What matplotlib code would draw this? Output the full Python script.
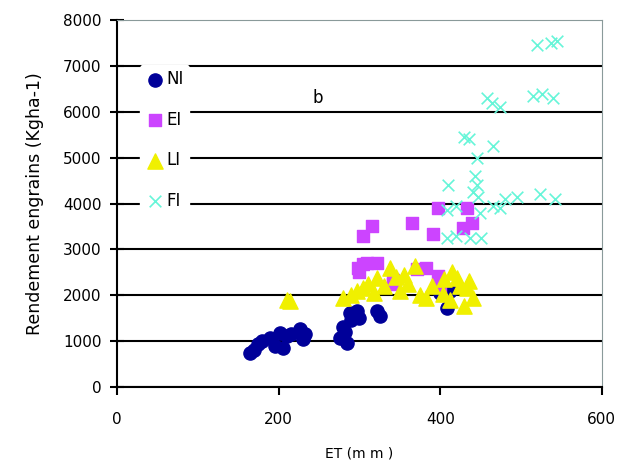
import matplotlib
matplotlib.use('Agg')
import matplotlib.pyplot as plt

# Data (ET in mm, yield in kg/ha)
ni_et = [165, 170, 175, 180, 189, 195, 202, 205, 210, 215, 226, 230, 233,
         276, 280, 282, 285, 288, 290, 297, 300, 322, 325, 400, 408, 412]
ni_yield = [745, 800, 940, 1000, 1070, 900, 1180, 850, 1100, 1150, 1265, 1050, 1150,
            1070, 1300, 1200, 950, 1600, 1450, 1660, 1500, 1660, 1550, 2050, 1730, 2100]

ei_et = [298, 300, 304, 309, 315, 322, 342, 342, 365, 371, 383, 391, 397, 397,
         428, 433, 439, 304, 400]
ei_yield = [2600, 2500, 3300, 2710, 3500, 2710, 2250, 2320, 3585, 2580, 2600, 3340,
            3910, 2425, 3475, 3910, 3585, 2690, 2200]

li_et = [210, 214, 280, 290, 297, 304, 310, 322, 330, 338, 345, 350, 360, 369, 375,
         383, 390, 403, 405, 415, 421, 425, 430, 433, 440, 318, 355, 412, 436]
li_yield = [1900, 1880, 1945, 2000, 2100, 2165, 2250, 2385, 2200, 2600, 2400, 2100,
            2250, 2640, 2000, 1945, 2200, 2030, 2350, 2500, 2385, 2200, 1770, 2165, 1945,
            2050, 2450, 1900, 2300]

fi_et = [408, 420, 437, 450, 408, 420, 440, 449, 447, 445, 443, 410, 474, 480, 495,
         523, 542, 465, 430, 435, 445, 465, 458, 464, 474, 515, 526, 540, 520, 537, 545]
fi_yield = [3250, 3300, 3250, 3250, 3850, 3950, 4250, 3800, 4150, 4400, 4600, 4400,
            3900, 4100, 4150, 4200, 4100, 3950, 5450, 5400, 5000, 5250, 6300, 6200,
            6100, 6350, 6400, 6300, 7450, 7500, 7550]

fig = plt.figure(figsize=(6.24, 4.70), dpi=100)
ax = fig.add_axes([0.1875, 0.177, 0.777, 0.78])

ax.scatter(ni_et, ni_yield, marker='o', s=90, color='#000099', label='NI', zorder=3)
ax.scatter(ei_et, ei_yield, marker='s', s=85, color='#cc44ff', label='EI', zorder=3)
ax.scatter(li_et, li_yield, marker='^', s=120, color='#f0f000', label='LI', zorder=3)
ax.scatter(fi_et, fi_yield, marker='x', s=70, color='#66f5d8', linewidths=1.2,
           label='FI', zorder=4)

ax.text(249, 6300, 'b', fontsize=12, ha='center', va='center')

ax.set_xlim(0, 600)
ax.set_ylim(0, 8000)
ax.set_xticks([0, 200, 400, 600])
ax.set_yticks(range(0, 8001, 1000))
ax.yaxis.grid(True, color='black', linewidth=1.5)
ax.set_axisbelow(True)
# no black gridline along the top frame
ax.yaxis.get_gridlines()[-1].set_visible(False)

ax.spines['left'].set_color('black')
ax.spines['bottom'].set_color('black')
ax.spines['left'].set_linewidth(1.5)
ax.spines['bottom'].set_linewidth(1.5)
ax.spines['top'].set_color('#8a9a9a')
ax.spines['right'].set_color('#8a9a9a')
ax.tick_params(axis='y', direction='inout', length=10, width=1.5, labelsize=11, pad=6)
ax.tick_params(axis='x', direction='out', length=6, width=1.5, labelsize=11, pad=12)

ax.set_xlabel('ET (m m )', fontsize=10, labelpad=14)
ax.set_ylabel('Rendement engrains (Kgha-1)', fontsize=12.5, labelpad=14)

leg = ax.legend(loc='upper left', bbox_to_anchor=(0.03, 0.9), frameon=True,
                fontsize=12, handletextpad=0.1, labelspacing=1.35,
                handlelength=1.2, borderpad=0.3)
leg.get_frame().set_edgecolor('white')
leg.get_frame().set_facecolor('white')
leg.get_frame().set_alpha(1)

fig.savefig('out.png', dpi=100)
